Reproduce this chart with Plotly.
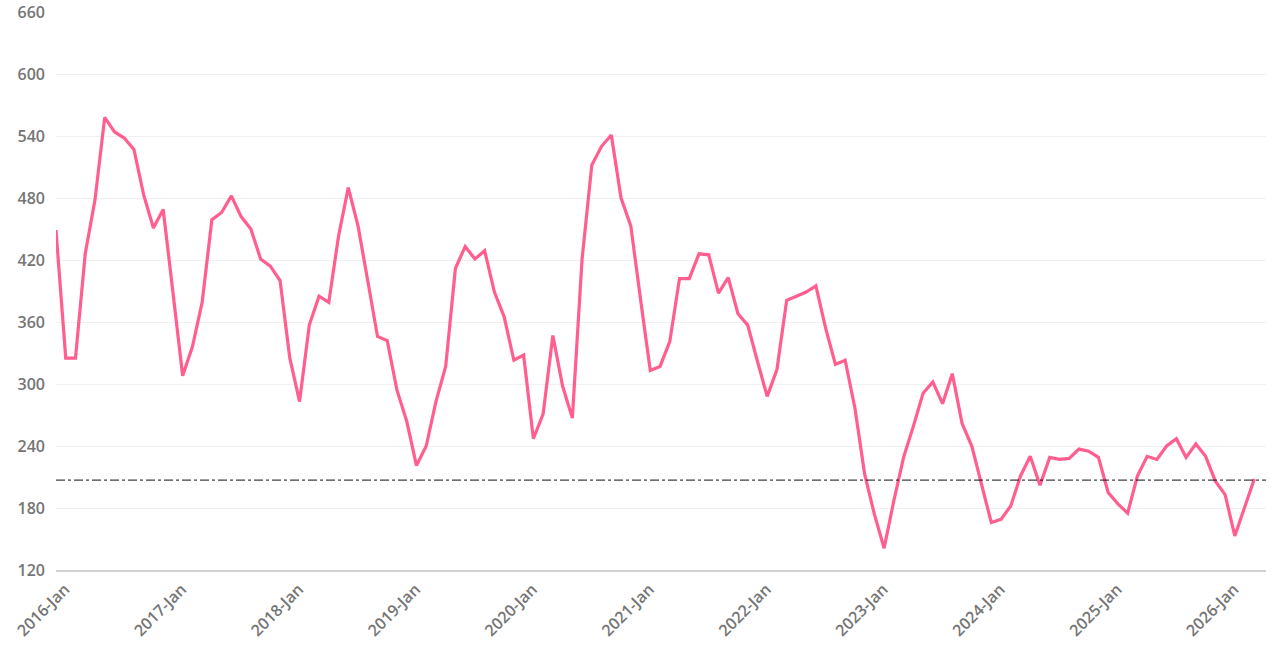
import plotly.graph_objects as go

MONTHS = ["Jan", "Feb", "Mar", "Apr", "May", "Jun", "Jul", "Aug", "Sep", "Oct", "Nov", "Dec"]
START_YEAR = 2016
VALUES = [
    449, 325, 325, 426, 478, 558, 544, 538, 527, 483, 451, 469,   # 2016
    389, 308, 336, 379, 459, 466, 482, 462, 450, 421, 414, 400,   # 2017
    325, 283, 357, 385, 379, 443, 490, 453, 400, 346, 342, 294,   # 2018
    264, 221, 240, 283, 317, 412, 433, 421, 429, 389, 365, 323,   # 2019
    328, 247, 271, 347, 298, 267, 421, 512, 530, 541, 480, 453,   # 2020
    382, 313, 317, 341, 402, 402, 426, 425, 388, 403, 368, 357,   # 2021
    322, 288, 314, 381, 385, 389, 395, 354, 319, 323, 277, 213,   # 2022
    174, 141, 187, 229, 259, 291, 302, 281, 310, 262, 240, 203,   # 2023
    166, 169, 182, 211, 230, 202, 229, 227, 228, 237, 235, 229,   # 2024
    195, 184, 175, 211, 230, 227, 240, 247, 229, 242, 230, 206,   # 2025
    193, 153, 181, 208,                                           # 2026
]
REF_VALUE = 207
Y_TICKS = [120, 180, 240, 300, 360, 420, 480, 540, 600, 660]

labels = [f"{START_YEAR + i // 12}-{MONTHS[i % 12]}" for i in range(len(VALUES))]
x_idx = list(range(len(VALUES)))
tick_idx = [i for i in x_idx if i % 12 == 0]
tick_txt = [labels[i] for i in tick_idx]

fig = go.Figure()
fig.add_trace(go.Scatter(
    x=x_idx, y=VALUES, mode="lines", text=labels,
    line=dict(color="#FF5E8E", width=3.2),
    hovertemplate="%{text}: %{y}<extra></extra>",
    showlegend=False,
))
fig.add_shape(type="line", xref="paper", x0=0, x1=1, yref="y", y0=REF_VALUE, y1=REF_VALUE,
              line=dict(color="#111111", width=1, dash="dashdot"), layer="above")

fig.update_layout(
    width=1280, height=653,
    margin=dict(l=56, r=14, t=12, b=83),
    paper_bgcolor="white", plot_bgcolor="white",
    font=dict(family="Open Sans, sans-serif", color="#757575", size=15),
    xaxis=dict(
        range=[0, 124.2], tickmode="array", tickvals=tick_idx, ticktext=tick_txt,
        tickangle=-45, showgrid=False, zeroline=False, automargin=False,
        showline=True, linecolor="#d0d0d0", linewidth=1.5, ticks="",
        ticklabelshift=9, ticklabelstandoff=2,
        tickfont=dict(family="Open Sans, sans-serif", size=16, color="#757575", weight=600),
    ),
    yaxis=dict(
        range=[120, 660], tickmode="array", tickvals=Y_TICKS, automargin=False,
        showgrid=True, gridcolor="#f0f0f0", gridwidth=1, zeroline=False,
        showline=False, ticks="", ticklabelstandoff=10, ticklabeloverflow="allow",
        tickfont=dict(family="Open Sans, sans-serif", size=16, color="#757575", weight=600),
    ),
)
fig.write_html("out.html", config={"displayModeBar": False},
               post_script="document.body.style.margin='0';document.body.style.padding='0';")
